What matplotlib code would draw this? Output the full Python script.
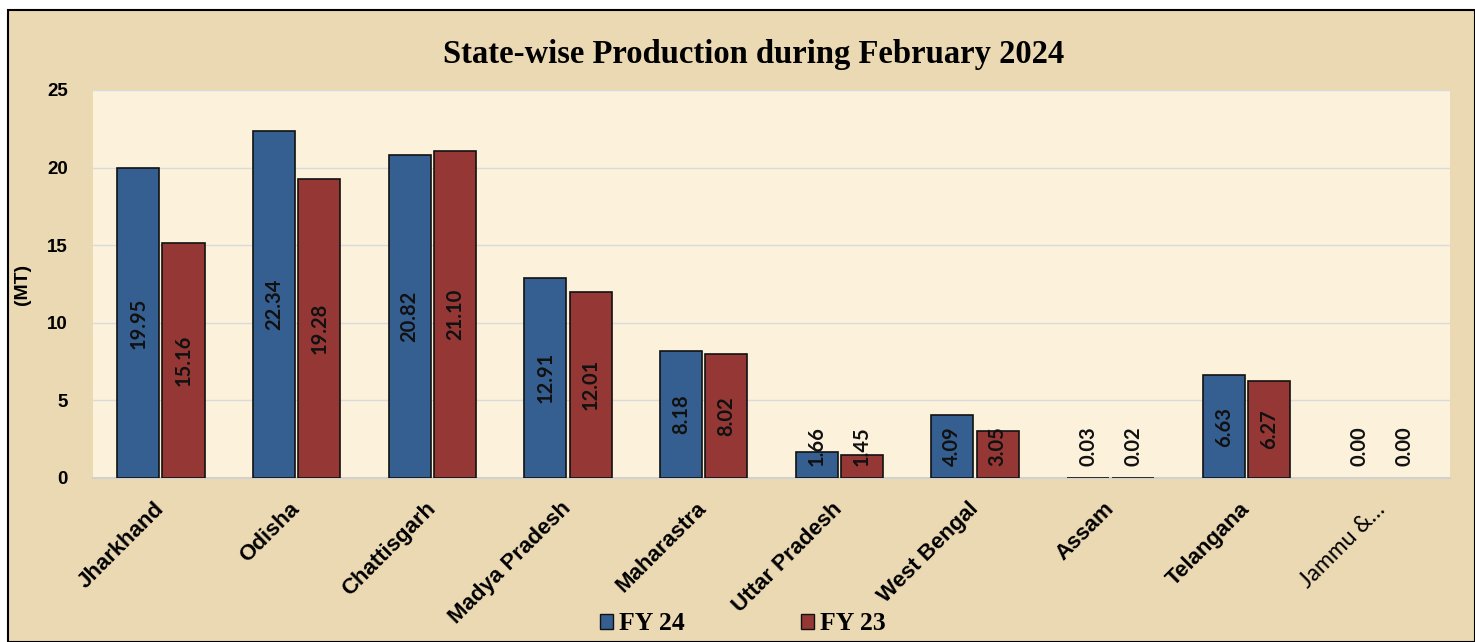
import matplotlib
matplotlib.use("Agg")
from matplotlib import pyplot as plt
import matplotlib.patches as patches
import numpy as np

# data
states = ["Jharkhand", "Odisha", "Chattisgarh", "Madya Pradesh", "Maharastra",
          "Uttar Pradesh", "West Bengal", "Assam", "Telangana", "Jammu &\u2026"]
fy24 = [19.95, 22.34, 20.82, 12.91, 8.18, 1.66, 4.09, 0.03, 6.63, 0.00]
fy23 = [15.16, 19.28, 21.10, 12.01, 8.02, 1.45, 3.05, 0.02, 6.27, 0.00]
yticks = [0, 5, 10, 15, 20, 25]

BLUE = "#365F91"
RED = "#953735"
PARCH = "#EAD9B3"
PLOT_BG = "#FCF2DC"

W, H = 1475, 642
fig = plt.figure(figsize=(W / 100, H / 100), dpi=100, facecolor="white")

# outer frame of the chart area
frame = patches.Rectangle((8 / W, 0), 1 - 8 / W, 1 - 10 / H, transform=fig.transFigure,
                          facecolor=PARCH, edgecolor="black", linewidth=1.5, zorder=-5)
fig.patches.append(frame)

ax = fig.add_axes([93 / W, 1 - 478 / H, (1450 - 93) / W, (478 - 90) / H])
ax.set_facecolor(PLOT_BG)

x = np.arange(len(states))
bw = 0.31
edge1 = ["#111111" if v > 0 else "none" for v in fy24]
edge2 = ["#111111" if v > 0 else "none" for v in fy23]
b1 = ax.bar(x - bw / 2 - 0.012, fy24, bw, color=BLUE, edgecolor=edge1, linewidth=1.2, zorder=3)
b2 = ax.bar(x + bw / 2 + 0.012, fy23, bw, color=RED, edgecolor=edge2, linewidth=1.2, zorder=3)

# value labels, rotated, centred in the bar but kept off the baseline
for bars, vals in ((b1, fy24), (b2, fy23)):
    for rect, v in zip(bars, vals):
        cx = rect.get_x() + rect.get_width() / 2
        ax.text(cx, max(v / 2, 2.05), f"{v:.2f}", rotation=90, ha="center", va="center",
                fontsize=14.5, fontweight="bold", family="Lato", color="#111111", zorder=4)

ax.set_xlim(-0.5, len(states) - 0.5)
ax.set_ylim(0, 25)
ax.set_yticks(yticks)
ax.set_yticklabels([str(t) for t in yticks], fontsize=13.5, fontweight="bold", family="Liberation Sans")
ax.yaxis.grid(True, color="#DADADA", linewidth=1.0, zorder=0)
ax.tick_params(axis="both", length=0)
ax.tick_params(axis="y", pad=18)
for s in ("top", "right", "left"):
    ax.spines[s].set_visible(False)
ax.spines["bottom"].set_color("#D0D0D0")
ax.spines["bottom"].set_linewidth(1.5)

ax.set_xticks(x)
labels = ax.set_xticklabels(states, rotation=45, ha="right", va="center", rotation_mode="anchor",
                            fontsize=16, fontweight="bold", family="Liberation Sans")
labels[-1].set_fontweight("normal")
labels[-1].set_family("Lato")
labels[-1].set_fontsize(16.5)
labels[-1].set_color("black")
ax.tick_params(axis="x", pad=20)

ax.set_ylabel("(MT)", fontsize=14, fontweight="bold", family="Liberation Sans", labelpad=12)

fig.text(754 / W, 1 - 54 / H, "State-wise Production during February 2024",
         ha="center", va="center", fontsize=23.5, fontweight="bold", family="Liberation Serif")

handles = [patches.Patch(facecolor=BLUE, edgecolor="#111111"),
           patches.Patch(facecolor=RED, edgecolor="#111111")]
fig.legend(handles, ["FY 24", "FY 23"], loc="center", bbox_to_anchor=(743 / W, 1 - 624 / H),
           ncol=2, frameon=False, columnspacing=4.5, handlelength=0.5, handleheight=0.5,
           handletextpad=0.25, prop={"family": "Liberation Serif", "weight": "bold", "size": 18.5})

fig.savefig("out.png", dpi=100, facecolor=fig.get_facecolor())
